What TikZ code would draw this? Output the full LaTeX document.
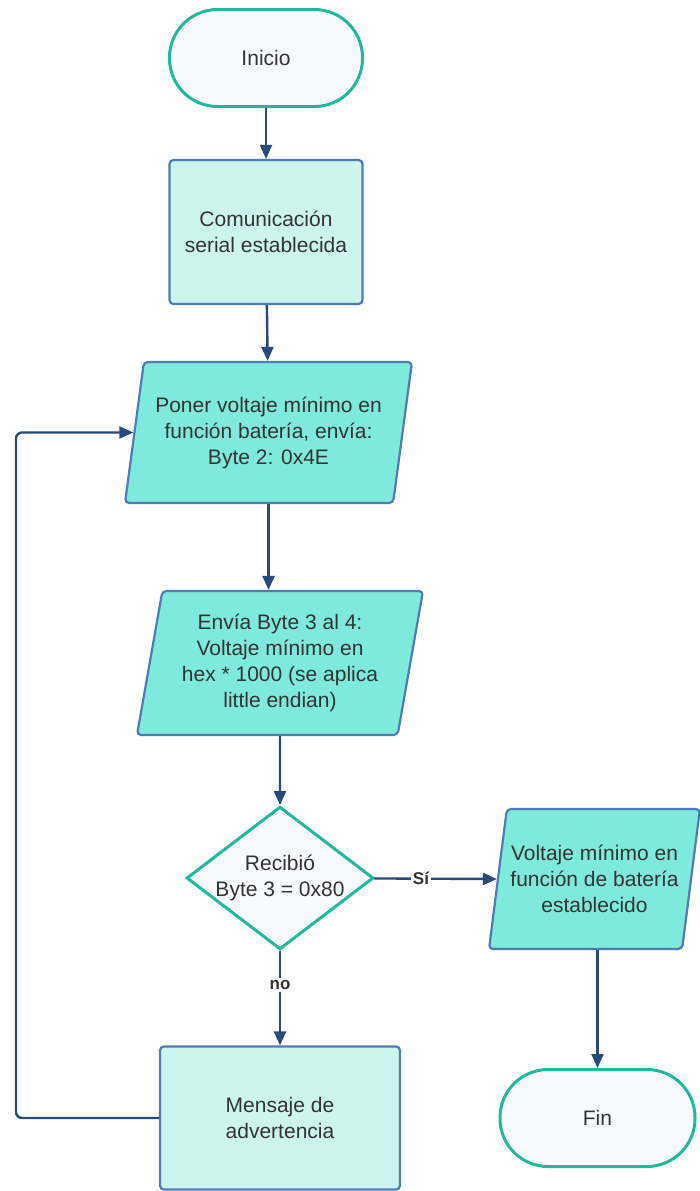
\documentclass[tikz,border=0pt]{standalone}
\usepackage{fontspec}
\setmainfont{Liberation Sans}
\usetikzlibrary{arrows.meta,shapes.geometric}
\definecolor{termline}{RGB}{30,186,158}
\definecolor{termfill}{RGB}{248,250,254}
\definecolor{boxline}{RGB}{78,124,182}
\definecolor{boxfill}{RGB}{204,245,240}
\definecolor{iofill}{RGB}{126,234,219}
\definecolor{flowc}{RGB}{38,74,122}
\definecolor{txt}{RGB}{51,51,51}
\tikzset{
    term/.style={rectangle, rounded corners=24pt, draw=termline, line width=1.5pt, fill=termfill, minimum width=96.5pt, minimum height=48.5pt, text=txt},
    proc/.style={rectangle, rounded corners=2pt, draw=boxline, line width=1.1pt, fill=boxfill, minimum height=72pt, align=center, text=txt},
    io/.style={trapezium, trapezium left angle=76, trapezium right angle=104, trapezium stretches body, rounded corners=2pt, draw=boxline, line width=1.1pt, fill=iofill, inner ysep=1pt, inner xsep=-14pt, align=center, text=txt},
    decis/.style={diamond, draw=termline, line width=1.5pt, fill=termfill, minimum width=93.5pt, minimum height=70pt, inner sep=-4pt, align=center, text=txt},
    flow/.style={-{Triangle[length=7pt,width=6pt]}, draw=flowc, line width=1.2pt},
    lbl/.style={font=\bfseries\fontsize{8.5}{10}\selectfont, fill=white, inner sep=1pt, text=txt}
}

\begin{document}
\begin{tikzpicture}[x=0.5pt, y=-0.5pt, font=\fontsize{10.5}{13}\selectfont]
    \useasboundingbox (0,0) rectangle (700,1191);

    \node[term] (inicio) at (266, 58) {Inicio};
    \node[proc, minimum width=96.5pt] (comun) at (266, 232) {Comunicación\\serial establecida};
    \node[io, minimum width=143.5pt, minimum height=70.5pt] (poner) at (268.5, 432.5) {Poner voltaje mínimo en\\función batería, envía:\\Byte 2: 0x4E};
    \node[io, minimum width=143pt, minimum height=72pt] (envia) at (280, 663) {Envía Byte 3 al 4:\\Voltaje mínimo en\\hex * 1000 (se aplica\\little endian)};
    \node[decis] (recibio) at (280, 878) {Recibió\\Byte 3 = 0x80};
    \node[io, minimum width=105.5pt, minimum height=70pt] (establ) at (594.5, 879) {Voltaje mínimo en\\función de batería\\establecido};
    \node[proc, minimum width=120pt, minimum height=71.5pt] (mensaje) at (280, 1118) {Mensaje de\\advertencia};
    \node[term, minimum width=97.5pt] (fin) at (597.5, 1118) {Fin};
    \coordinate (vuelta) at (16, 1118);

    \draw[flow] (inicio) -- (comun);
    \draw[flow] (comun) -- (poner);
    \draw[flow] (poner.south) -- (poner.south |- envia.north);
    \draw[flow] (envia) -- (recibio);
    \draw[flow] (recibio) -- node[lbl, pos=0.38] {Sí} (establ.west);
    \draw[flow] (recibio) -- node[lbl, pos=0.36] {no} (mensaje);
    \draw[flow] (establ.south -| fin.north) -- (fin);
    \draw[flow, rounded corners=3pt] (mensaje.west) -- (vuelta) |- (poner.west);
\end{tikzpicture}
\end{document}
